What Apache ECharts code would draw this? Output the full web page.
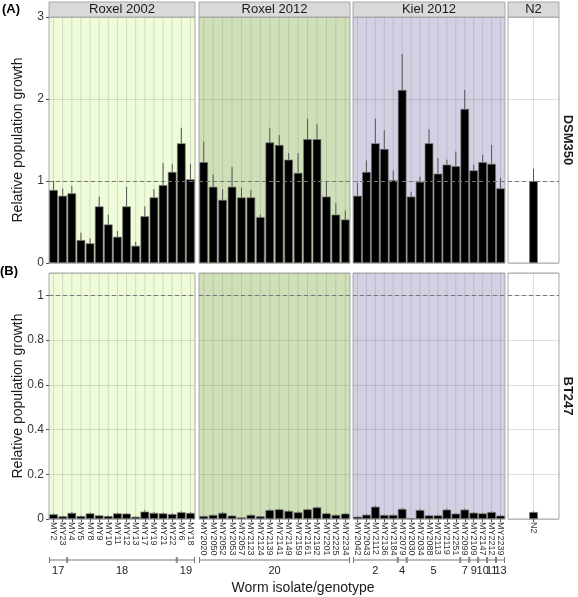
<!DOCTYPE html>
<html><head><meta charset="utf-8">
<script src="https://cdn.jsdelivr.net/npm/echarts@6/dist/echarts.min.js"></script>
<style>html,body{margin:0;padding:0;background:#fff}#c{width:578px;height:597px}</style>
</head><body><div id="c"></div>
<script>
const facets = ['Roxel 2002', 'Roxel 2012', 'Kiel 2012', 'N2'];
const rowLabels = ['DSM350', 'BT247'];

const isolatesRoxel2002 = ['MY2','MY23','MY4','MY5','MY8','MY9','MY10','MY11','MY12','MY13','MY17','MY19','MY21','MY22','MY6','MY18'];
const isolatesRoxel2012 = ['MY2020','MY2050','MY2052','MY2053','MY2057','MY2123','MY2124','MY2139','MY2141','MY2149','MY2159','MY2161','MY2192','MY2201','MY2225','MY2234'];
const isolatesKiel2012 = ['MY2042','MY2043','MY2112','MY2136','MY2184','MY2079','MY2030','MY2034','MY2088','MY2113','MY2119','MY2251','MY2099','MY2109','MY2147','MY2212','MY2239'];
const isolatesN2 = ['N2'];

// DSM350 (panel A): mean and mean + error
const dsmRoxel2002 = [0.89,0.82,0.85,0.28,0.24,0.69,0.47,0.32,0.69,0.21,0.57,0.80,0.95,1.11,1.46,1.02];
const dsmRoxel2002Upper = [1.00,0.91,0.94,0.37,0.30,0.81,0.59,0.39,0.93,0.26,0.69,0.90,1.22,1.21,1.65,1.21];
const dsmRoxel2012 = [1.23,0.93,0.77,0.93,0.80,0.80,0.56,1.47,1.44,1.26,1.10,1.51,1.51,0.81,0.59,0.53];
const dsmRoxel2012Upper = [1.48,1.08,0.90,1.17,0.92,0.89,0.59,1.65,1.56,1.34,1.34,1.76,1.69,1.00,0.73,0.64];
const dsmKiel2012 = [0.82,1.11,1.46,1.39,1.01,2.11,0.81,0.99,1.46,1.09,1.20,1.18,1.88,1.13,1.23,1.21,0.91];
const dsmKiel2012Upper = [0.98,1.25,1.76,1.62,1.13,2.55,0.87,1.05,1.63,1.28,1.26,1.36,2.11,1.20,1.32,1.44,1.04];
const dsmN2 = [1.00];
const dsmN2Upper = [1.15];

// BT247 (panel B): mean and mean + error
const btRoxel2002 = [0.021,0.012,0.027,0.013,0.025,0.016,0.013,0.025,0.024,0.010,0.033,0.027,0.025,0.022,0.030,0.027];
const btRoxel2002Upper = [0.025,0.015,0.031,0.016,0.029,0.019,0.016,0.028,0.027,0.012,0.040,0.031,0.029,0.026,0.034,0.031];
const btRoxel2012 = [0.013,0.018,0.027,0.015,0.007,0.018,0.012,0.040,0.043,0.036,0.030,0.043,0.052,0.025,0.018,0.024];
const btRoxel2012Upper = [0.016,0.021,0.031,0.018,0.009,0.021,0.014,0.044,0.046,0.039,0.034,0.046,0.056,0.028,0.021,0.027];
const btKiel2012 = [0.010,0.019,0.055,0.018,0.018,0.045,0.003,0.040,0.016,0.016,0.042,0.024,0.042,0.028,0.025,0.031,0.015];
const btKiel2012Upper = [0.012,0.023,0.060,0.020,0.021,0.050,0.004,0.045,0.019,0.019,0.047,0.027,0.046,0.031,0.028,0.034,0.019];
const btN2 = [0.031];
const btN2Upper = [0.034];

// genotype groups: [label, first isolate index, last isolate index]
const genotypesRoxel2002 = [['17',0,1],['18',2,13],['19',14,15]];
const genotypesRoxel2012 = [['20',0,15]];
const genotypesKiel2012 = [['2',0,4],['4',5,5],['5',6,11],['7',12,12],['9',13,13],['10',14,14],['11',15,15],['13',16,16]];
const genotypesN2 = [];

const yTicksA = {min:0, max:3, interval:1};
const yTicksB = {min:0, max:1.1, interval:0.2};

const cats = [isolatesRoxel2002, isolatesRoxel2012, isolatesKiel2012, isolatesN2];
const vals = [[dsmRoxel2002, dsmRoxel2012, dsmKiel2012, dsmN2],[btRoxel2002, btRoxel2012, btKiel2012, btN2]];
const ups = [[dsmRoxel2002Upper, dsmRoxel2012Upper, dsmKiel2012Upper, dsmN2Upper],[btRoxel2002Upper, btRoxel2012Upper, btKiel2012Upper, btN2Upper]];
const groups = [genotypesRoxel2002, genotypesRoxel2012, genotypesKiel2012, genotypesN2];

const colX = [[49,146],[199,151],[353,152],[508,51]];
const rowY = [[17,246],[273,246]];
const bg = ['#eefcd9','#cfe0b8','#d5cfe4','#ffffff'];
const FONT = 'Liberation Sans, Arial, sans-serif';

const grids=[], xAxes=[], yAxes=[], series=[];
for (let r=0;r<2;r++){
  for (let c=0;c<4;c++){
    const idx = r*4+c;
    grids.push({left:colX[c][0], top:rowY[r][0], width:colX[c][1], height:rowY[r][1],
      show:true, backgroundColor:bg[c], borderColor:'#a8a8a8', borderWidth:1});
    xAxes.push({type:'category', gridIndex:idx, data:cats[c], boundaryGap:true,
      axisLine:{show:false},
      axisTick:{show:r===1, length:3, alignWithLabel:true, lineStyle:{color:'#555'}},
      axisLabel:{show:r===1, rotate:-90, fontSize:9, color:'#333', interval:0, margin:3, fontFamily:FONT},
      splitLine:{show:false}});
    const yt = r===0 ? yTicksA : yTicksB;
    yAxes.push({type:'value', gridIndex:idx, min:yt.min, max:yt.max, interval:yt.interval,
      axisLine:{show:false},
      axisTick:{show:c===0, length:3, lineStyle:{color:'#555'}},
      axisLabel:{show:c===0, fontSize:12, color:'#333', margin:5, fontFamily:FONT, showMaxLabel: r===0},
      splitLine:{show:true, lineStyle:{color:'rgba(110,110,110,0.22)', width:1}}});
    // vertical grid lines at category centers
    series.push({type:'custom', xAxisIndex:idx, yAxisIndex:idx, z:1, silent:true,
      data: cats[c].map((_,i)=>[i, 0]),
      encode:{x:0, y:1},
      renderItem:function(params, api){
        const x = api.coord([api.value(0), 0])[0];
        const cs = params.coordSys;
        return {type:'line', shape:{x1:x, y1:cs.y, x2:x, y2:cs.y+cs.height},
          style:{stroke:'rgba(110,110,110,0.22)', lineWidth:1}};
      }});
    series.push({type:'bar', xAxisIndex:idx, yAxisIndex:idx, z:3, data:vals[r][c], barWidth:8.6,
      itemStyle:{color:'#000', borderColor:'#777', borderWidth:0.7},
      markLine:{silent:true, symbol:'none', label:{show:false}, animation:false,
        lineStyle:{type:[4,3], color:'#777', width:1}, data:[{yAxis:1}]}});
    series.push({type:'custom', xAxisIndex:idx, yAxisIndex:idx, z:4, silent:true,
      data: vals[r][c].map((v,i)=>[i, v, ups[r][c][i]]),
      encode:{x:0, y:[1,2]},
      renderItem:function(params, api){
        const p0 = api.coord([api.value(0), api.value(1)]);
        const p1 = api.coord([api.value(0), api.value(2)]);
        return {type:'line', shape:{x1:p0[0], y1:p0[1], x2:p1[0], y2:p1[1]},
          style:{stroke:'#555', lineWidth:1}};
      }});
    if (r===1 && groups[c].length){
      const g = groups[c];
      series.push({type:'custom', xAxisIndex:idx, yAxisIndex:idx, z:4, silent:true, clip:false,
        data: g.map(d=>[d[1], d[2], 0]),
        encode:{x:[0,1], y:2},
        renderItem:function(params, api){
          const bw = api.size([1,0])[0];
          const x1 = api.coord([api.value(0),0])[0] - bw/2 + 0.5;
          const x2 = api.coord([api.value(1),0])[0] + bw/2 - 0.5;
          const y = api.coord([0,0])[1] + 41;
          const st = {stroke:'#777', lineWidth:1};
          return {type:'group', children:[
            {type:'line', shape:{x1:x1, y1:y, x2:x2, y2:y}, style:st},
            {type:'line', shape:{x1:x1, y1:y-3, x2:x1, y2:y+3}, style:st},
            {type:'line', shape:{x1:x2, y1:y-3, x2:x2, y2:y+3}, style:st},
            {type:'text', x:(x1+x2)/2, y:y+11, style:{text:g[params.dataIndex][0], fill:'#222',
              font:'11px '+FONT, textAlign:'center', textVerticalAlign:'middle'}}
          ]};
        }});
    }
  }
}

const graphic = [];
facets.forEach((f,c)=>{
  graphic.push({type:'rect', shape:{x:colX[c][0], y:2, width:colX[c][1], height:15},
    style:{fill:'#d9d9d9', stroke:'#a8a8a8', lineWidth:1}, z:10});
  graphic.push({type:'text', x:colX[c][0]+colX[c][1]/2, y:9.5, z:11,
    style:{text:f, font:'13px '+FONT, fill:'#1a1a1a', textAlign:'center', textVerticalAlign:'middle'}});
});
graphic.push({type:'text', x:2, y:9, style:{text:'(A)', font:'bold 13px '+FONT, fill:'#000', textVerticalAlign:'middle'}});
graphic.push({type:'text', x:0, y:271, style:{text:'(B)', font:'bold 13px '+FONT, fill:'#000', textVerticalAlign:'middle'}});
[[140],[396]].forEach((p,r)=>{
  graphic.push({type:'text', x:18, y:p[0], rotation:Math.PI/2,
    style:{text:'Relative population growth', font:'14px '+FONT, fill:'#1a1a1a', textAlign:'center', textVerticalAlign:'middle'}});
  graphic.push({type:'text', x:568, y:p[0], rotation:-Math.PI/2,
    style:{text:rowLabels[r], font:'bold 13px '+FONT, fill:'#1a1a1a', textAlign:'center', textVerticalAlign:'middle'}});
});
graphic.push({type:'text', x:303, y:588, style:{text:'Worm isolate/genotype', font:'14px '+FONT, fill:'#1a1a1a', textAlign:'center', textVerticalAlign:'middle'}});

const chart = echarts.init(document.getElementById('c'));
chart.setOption({animation:false, grid:grids, xAxis:xAxes, yAxis:yAxes, series:series, graphic:graphic});
</script></body></html>
